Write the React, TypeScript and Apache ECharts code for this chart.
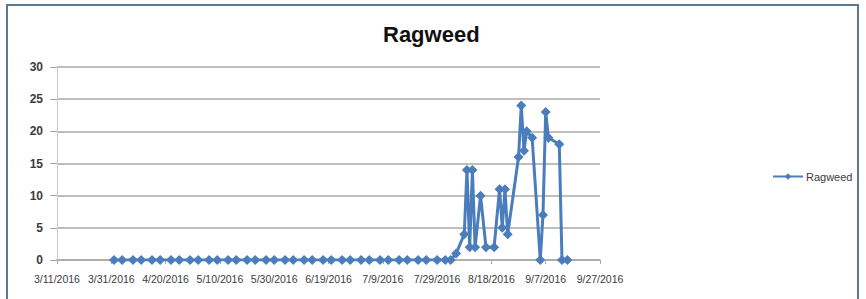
import React, { useEffect, useRef } from "react";
import * as echarts from "echarts";

const seriesName = "Ragweed";
const titleText = "Ragweed";

// sample dates (M/D/YYYY) and pollen counts
const sampleDates = [
  "4/1/2016", "4/4/2016", "4/8/2016", "4/11/2016", "4/15/2016", "4/18/2016",
  "4/22/2016", "4/25/2016", "4/29/2016", "5/2/2016", "5/6/2016", "5/9/2016",
  "5/13/2016", "5/16/2016", "5/20/2016", "5/23/2016", "5/27/2016", "5/30/2016",
  "6/3/2016", "6/6/2016", "6/10/2016", "6/13/2016", "6/17/2016", "6/20/2016",
  "6/24/2016", "6/27/2016", "7/1/2016", "7/4/2016", "7/8/2016", "7/11/2016",
  "7/15/2016", "7/18/2016", "7/22/2016", "7/25/2016", "7/29/2016", "8/1/2016",
  "8/3/2016", "8/5/2016", "8/8/2016", "8/9/2016", "8/10/2016", "8/11/2016",
  "8/12/2016", "8/14/2016", "8/16/2016", "8/19/2016", "8/21/2016", "8/22/2016",
  "8/23/2016", "8/24/2016", "8/28/2016", "8/29/2016", "8/30/2016", "8/31/2016",
  "9/2/2016", "9/5/2016", "9/6/2016", "9/7/2016", "9/8/2016", "9/12/2016",
  "9/13/2016", "9/15/2016",
];
const ragweedValues = [
  0, 0, 0, 0, 0, 0,
  0, 0, 0, 0, 0, 0,
  0, 0, 0, 0, 0, 0,
  0, 0, 0, 0, 0, 0,
  0, 0, 0, 0, 0, 0,
  0, 0, 0, 0, 0, 0,
  0, 1, 4, 14, 2, 14,
  2, 10, 2, 2, 11, 5,
  11, 4, 16, 24, 17, 20,
  19, 0, 7, 23, 19, 18,
  0, 0,
];

// x axis bounds (first / last tick label) and tick step in days
const xAxisStart = "3/11/2016";
const xAxisEnd = "9/27/2016";
const xTickDays = 20;
const yMin = 0;
const yMax = 30;
const yStep = 5;

// Excel-style date serial numbers
function toSerial(s: string): number {
  const [m, d, y] = s.split("/").map(Number);
  return Date.UTC(y, m - 1, d) / 86400000 + 25569;
}
function fromSerial(v: number): string {
  const dt = new Date(Math.round((v - 25569) * 86400000));
  return `${dt.getUTCMonth() + 1}/${dt.getUTCDate()}/${dt.getUTCFullYear()}`;
}

export default function App() {
  const ref = useRef<HTMLDivElement>(null);
  useEffect(() => {
    document.body.style.margin = "0";
    if (!ref.current) return;
    const chart = echarts.init(ref.current, undefined, { renderer: "svg" });
    const data = sampleDates.map((d, i) => [toSerial(d), ragweedValues[i]]);
    const blue = "#4a7dbb";
    const textColor = "#3c3c3c";
    const font = "Liberation Sans";
    chart.setOption({
      animation: false,
      backgroundColor: "#ffffff",
      title: {
        text: titleText,
        left: 378,
        top: 18,
        textStyle: { fontFamily: font, fontSize: 22, fontWeight: "bold", color: "#111111" },
      },
      legend: {
        data: [seriesName],
        left: 767,
        top: 166,
        itemWidth: 30,
        itemHeight: 8,
        itemGap: 4,
        textStyle: { fontFamily: font, fontSize: 11, color: textColor, padding: [0, 0, 0, -2] },
      },
      grid: { left: 57, right: 266, top: 67, bottom: 39 },
      xAxis: {
        type: "value",
        min: toSerial(xAxisStart),
        max: toSerial(xAxisEnd),
        interval: xTickDays,
        splitLine: { show: false },
        axisLine: { show: true, lineStyle: { color: "#a8a8a8", width: 1.5 } },
        axisTick: { show: true, length: 4, lineStyle: { color: "#a8a8a8" } },
        axisLabel: {
          margin: 13,
          fontFamily: font,
          fontSize: 10.5,
          color: textColor,
          hideOverlap: false,
          showMinLabel: true,
          showMaxLabel: true,
          formatter: (v: number) => fromSerial(v),
        },
      },
      yAxis: {
        type: "value",
        min: yMin,
        max: yMax,
        interval: yStep,
        axisLine: { show: true, lineStyle: { color: "#c8c8c8", width: 1 } },
        axisTick: { show: true, length: 7, lineStyle: { color: "#a8a8a8" } },
        splitLine: { show: true, lineStyle: { color: "#a8a8a8", width: 1.5 } },
        axisLabel: { margin: 14, fontFamily: font, fontSize: 12, fontWeight: "bold", color: textColor },
      },
      graphic: [
        {
          type: "rect",
          shape: { x: 7, y: 5, width: 851, height: 330 },
          style: { fill: "none", stroke: "#5b7794", lineWidth: 2 },
          silent: true,
        },
      ],
      series: [
        {
          name: seriesName,
          type: "line",
          data,
          symbol: "diamond",
          symbolSize: 10,
          showAllSymbol: true,
          color: blue,
          lineStyle: { color: blue, width: 3 },
          itemStyle: { color: blue },
        },
      ],
    });
    return () => chart.dispose();
  }, []);
  return <div ref={ref} style={{ width: 866, height: 299 }} />;
}
